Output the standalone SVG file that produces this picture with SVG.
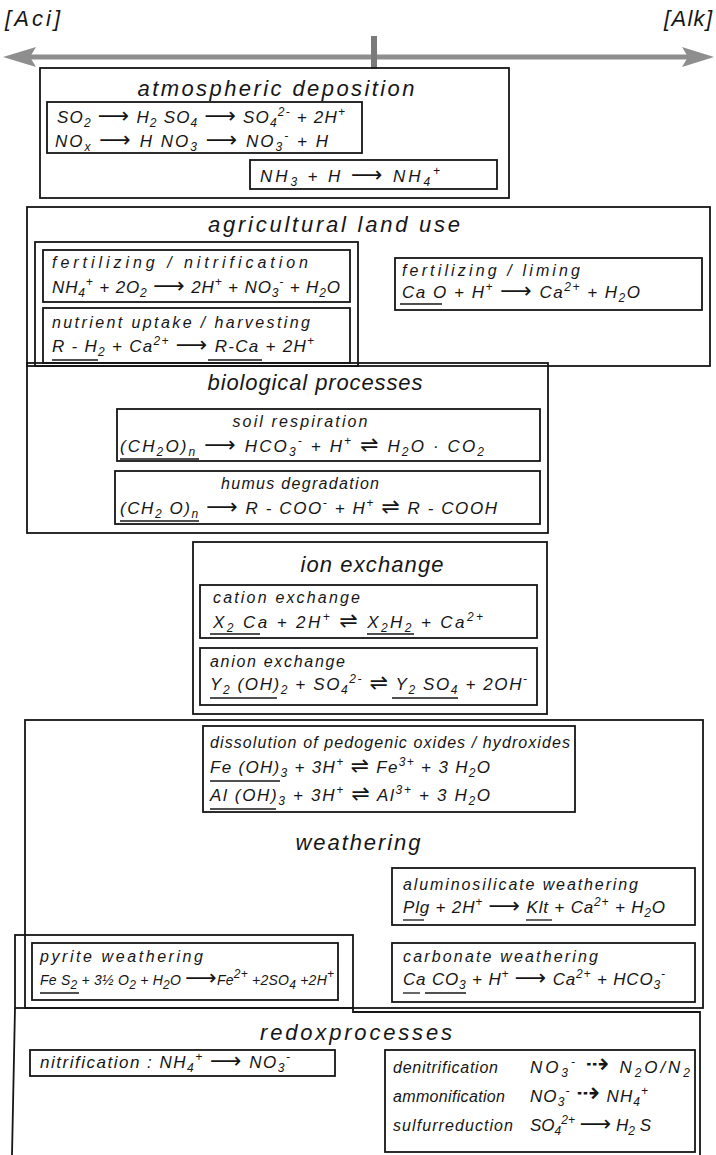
<svg xmlns="http://www.w3.org/2000/svg" width="716" height="1155" viewBox="0 0 716 1155">
<style>
.box{fill:none;stroke:#161616;stroke-width:1.8}
.ul{stroke:#161616;stroke-width:1.3}
.t{font-family:"Liberation Sans","DejaVu Sans",sans-serif;font-style:italic;fill:#161616}
.h{font-size:22px}
.s{font-size:16px}
.e{font-size:17px}
.b{font-size:12px;baseline-shift:-4px}
.p{font-size:12px;baseline-shift:7px}
.a{font-size:22px;font-family:"DejaVu Sans",sans-serif;font-style:normal}
.d{font-size:28px;font-family:"DejaVu Sans",sans-serif;font-style:normal}
</style>
<rect width="716" height="1155" fill="#fff"/>
<g id="connectors">
  <line x1="28" y1="57" x2="690" y2="57" stroke="#8e8e8e" stroke-width="5"/>
  <polygon points="3,57 36,47 30,57 36,67" fill="#8e8e8e"/>
  <polygon points="714,57 682,47 688,57 682,67" fill="#8e8e8e"/>
  <rect x="371" y="36" width="6" height="33" fill="#7a7a7a"/>
</g>
<g id="axis-labels">
  <text class="t h" x="5" y="26" textLength="55">[Aci]</text>
  <text class="t h" x="712" y="26" text-anchor="end" textLength="48">[Alk]</text>
</g>
<g id="atmospheric-deposition">
  <rect class="box" x="40" y="68" width="469" height="130"/>
  <text class="t h" x="276" y="96" text-anchor="middle" textLength="277">atmospheric deposition</text>
  <rect class="box" x="47" y="102" width="315" height="51"/>
  <text class="t e" x="57" y="123" textLength="288">SO<tspan class="b">2</tspan> <tspan class="a">⟶</tspan> H<tspan class="b">2</tspan> SO<tspan class="b">4</tspan> <tspan class="a">⟶</tspan> SO<tspan class="b">4</tspan><tspan class="p">2-</tspan> + 2H<tspan class="p">+</tspan></text>
  <text class="t e" x="55" y="147" textLength="273">NO<tspan class="b">x</tspan> <tspan class="a">⟶</tspan> H NO<tspan class="b">3</tspan> <tspan class="a">⟶</tspan> NO<tspan class="b">3</tspan><tspan class="p">-</tspan> + H</text>
  <rect class="box" x="250" y="160" width="247" height="29"/>
  <text class="t e" x="260" y="182" textLength="180">NH<tspan class="b">3</tspan> + H <tspan class="a">⟶</tspan> NH<tspan class="b">4</tspan><tspan class="p">+</tspan></text>
</g>
<g id="agricultural-land-use">
  <rect class="box" x="27" y="207" width="683" height="159"/>
  <text class="t h" x="334" y="232" text-anchor="middle" textLength="252">agricultural land use</text>
  <rect class="box" x="35" y="242" width="323" height="124"/>
  <rect class="box" x="43" y="250" width="307" height="52"/>
  <text class="t s" x="52" y="268" textLength="256">fertilizing / nitrification</text>
  <text class="t e" x="52" y="293" textLength="288">NH<tspan class="b">4</tspan><tspan class="p">+</tspan> + 2O<tspan class="b">2</tspan> <tspan class="a">⟶</tspan> 2H<tspan class="p">+</tspan> + NO<tspan class="b">3</tspan><tspan class="p">-</tspan> + H<tspan class="b">2</tspan>O</text>
  <rect class="box" x="43" y="308" width="307" height="55"/>
  <text class="t s" x="52" y="328" textLength="258">nutrient uptake / harvesting</text>
  <text class="t e" x="52" y="352" textLength="262">R - H<tspan class="b">2</tspan> + Ca<tspan class="p">2+</tspan> <tspan class="a">⟶</tspan> R-Ca + 2H<tspan class="p">+</tspan></text>
  <line class="ul" x1="52" y1="360" x2="98" y2="360"/>
  <line class="ul" x1="208" y1="360" x2="262" y2="360"/>
  <rect class="box" x="395" y="258" width="307" height="52"/>
  <text class="t s" x="402" y="276" textLength="178">fertilizing / liming</text>
  <text class="t e" x="402" y="298" textLength="238">Ca O + H<tspan class="p">+</tspan> <tspan class="a">⟶</tspan> Ca<tspan class="p">2+</tspan> + H<tspan class="b">2</tspan>O</text>
  <line class="ul" x1="400" y1="304" x2="442" y2="304"/>
</g>
<g id="biological-processes">
  <rect class="box" x="27" y="363" width="521" height="170"/>
  <text class="t h" x="315" y="390" text-anchor="middle" textLength="215">biological processes</text>
  <rect class="box" x="117" y="409" width="423" height="52"/>
  <text class="t s" x="300" y="427" text-anchor="middle" textLength="135">soil respiration</text>
  <text class="t e" x="120" y="452" textLength="364">(CH<tspan class="b">2</tspan>O)<tspan class="b">n</tspan> <tspan class="a">⟶</tspan> HCO<tspan class="b">3</tspan><tspan class="p">-</tspan> + H<tspan class="p">+</tspan> <tspan class="a">⇌</tspan> H<tspan class="b">2</tspan>O · CO<tspan class="b">2</tspan></text>
  <line class="ul" x1="120" y1="459" x2="199" y2="459"/>
  <rect class="box" x="115" y="471" width="425" height="53"/>
  <text class="t s" x="300" y="489" text-anchor="middle" textLength="158">humus degradation</text>
  <text class="t e" x="120" y="514" textLength="377">(CH<tspan class="b">2</tspan> O)<tspan class="b">n</tspan> <tspan class="a">⟶</tspan> R - COO<tspan class="p">-</tspan> + H<tspan class="p">+</tspan> <tspan class="a">⇌</tspan> R - COOH</text>
  <line class="ul" x1="120" y1="521" x2="199" y2="521"/>
</g>
<g id="ion-exchange">
  <rect class="box" x="193" y="542" width="354" height="172"/>
  <text class="t h" x="372" y="572" text-anchor="middle" textLength="143">ion exchange</text>
  <rect class="box" x="200" y="585" width="337" height="53"/>
  <text class="t s" x="213" y="603" textLength="147">cation exchange</text>
  <text class="t e" x="213" y="628" textLength="270">X<tspan class="b">2</tspan> Ca + 2H<tspan class="p">+</tspan> <tspan class="a">⇌</tspan> X<tspan class="b">2</tspan>H<tspan class="b">2</tspan> + Ca<tspan class="p">2+</tspan></text>
  <line class="ul" x1="210" y1="634" x2="260" y2="634"/>
  <line class="ul" x1="367" y1="634" x2="414" y2="634"/>
  <rect class="box" x="200" y="648" width="337" height="57"/>
  <text class="t s" x="210" y="667" textLength="135">anion exchange</text>
  <text class="t e" x="210" y="690" textLength="317">Y<tspan class="b">2</tspan> (OH)<tspan class="b">2</tspan> + SO<tspan class="b">4</tspan><tspan class="p">2-</tspan> <tspan class="a">⇌</tspan> Y<tspan class="b">2</tspan> SO<tspan class="b">4</tspan> + 2OH<tspan class="p">-</tspan></text>
  <line class="ul" x1="210" y1="698" x2="277" y2="698"/>
  <line class="ul" x1="392" y1="698" x2="458" y2="698"/>
</g>
<g id="weathering">
  <rect class="box" x="25" y="720" width="678" height="288"/>
  <rect class="box" x="203" y="726" width="372" height="86"/>
  <text class="t s" x="210" y="748" textLength="360">dissolution of pedogenic oxides / hydroxides</text>
  <text class="t e" x="210" y="773" textLength="280">Fe (OH)<tspan class="b">3</tspan> + 3H<tspan class="p">+</tspan> <tspan class="a">⇌</tspan> Fe<tspan class="p">3+</tspan> + 3 H<tspan class="b">2</tspan>O</text>
  <line class="ul" x1="210" y1="781" x2="280" y2="781"/>
  <text class="t e" x="210" y="801" textLength="280">Al (OH)<tspan class="b">3</tspan> + 3H<tspan class="p">+</tspan> <tspan class="a">⇌</tspan> Al<tspan class="p">3+</tspan> + 3 H<tspan class="b">2</tspan>O</text>
  <line class="ul" x1="210" y1="809" x2="276" y2="809"/>
  <text class="t h" x="358" y="850" text-anchor="middle" textLength="125">weathering</text>
  <rect class="box" x="392" y="868" width="303" height="57"/>
  <text class="t s" x="403" y="890" textLength="235">aluminosilicate weathering</text>
  <text class="t e" x="403" y="913" textLength="262">Plg + 2H<tspan class="p">+</tspan> <tspan class="a">⟶</tspan> Klt + Ca<tspan class="p">2+</tspan> + H<tspan class="b">2</tspan>O</text>
  <line class="ul" x1="403" y1="920" x2="424" y2="920"/>
  <line class="ul" x1="526" y1="920" x2="552" y2="920"/>
  <rect class="box" x="392" y="943" width="303" height="59"/>
  <text class="t s" x="403" y="962" textLength="195">carbonate weathering</text>
  <text class="t e" x="403" y="985" textLength="262">Ca CO<tspan class="b">3</tspan> + H<tspan class="p">+</tspan> <tspan class="a">⟶</tspan> Ca<tspan class="p">2+</tspan> + HCO<tspan class="b">3</tspan><tspan class="p">-</tspan></text>
  <line class="ul" x1="403" y1="993" x2="420" y2="993"/>
  <line class="ul" x1="425" y1="993" x2="466" y2="993"/>
</g>
<g id="pyrite-weathering">
  <rect class="box" x="15" y="935" width="338" height="73"/>
  <rect class="box" x="32" y="943" width="306" height="57"/>
  <text class="t s" x="40" y="962" textLength="163">pyrite weathering</text>
  <text class="t" x="40" y="985" font-size="14" textLength="294">Fe S<tspan class="b" font-size="10">2</tspan> + 3½ O<tspan class="b" font-size="10">2</tspan> + H<tspan class="b" font-size="10">2</tspan>O <tspan class="a" font-size="18">⟶</tspan>Fe<tspan class="p" font-size="10">2+</tspan> +2SO<tspan class="b" font-size="10">4</tspan> +2H<tspan class="p" font-size="10">+</tspan></text>
  <line class="ul" x1="40" y1="993" x2="79" y2="993"/>
</g>
<g id="redoxprocesses">
  <path class="box" d="M15 1008 L12 1155 M353 1008 V1012 H700 V1155"/>
  <text class="t h" x="356" y="1040" text-anchor="middle" textLength="192">redoxprocesses</text>
  <rect class="box" x="30" y="1050" width="305" height="26"/>
  <text class="t e" x="40" y="1068" textLength="250">nitrification : NH<tspan class="b">4</tspan><tspan class="p">+</tspan> <tspan class="a">⟶</tspan> NO<tspan class="b">3</tspan><tspan class="p">-</tspan></text>
  <rect class="box" x="385" y="1050" width="310" height="102"/>
  <text class="t s" x="393" y="1073" textLength="105">denitrification</text>
  <text class="t e" x="530" y="1073" textLength="160">NO<tspan class="b">3</tspan><tspan class="p">-</tspan> <tspan class="d">⇢</tspan> N<tspan class="b">2</tspan>O/N<tspan class="b">2</tspan></text>
  <text class="t s" x="393" y="1102" textLength="112">ammonification</text>
  <text class="t e" x="530" y="1102" textLength="118">NO<tspan class="b">3</tspan><tspan class="p">-</tspan> <tspan class="d">⇢</tspan> NH<tspan class="b">4</tspan><tspan class="p">+</tspan></text>
  <text class="t s" x="393" y="1131" textLength="120">sulfurreduction</text>
  <text class="t e" x="530" y="1131">SO<tspan class="b">4</tspan><tspan class="p">2+</tspan> <tspan class="a">⟶</tspan> H<tspan class="b">2</tspan> S</text>
</g>
</svg>
